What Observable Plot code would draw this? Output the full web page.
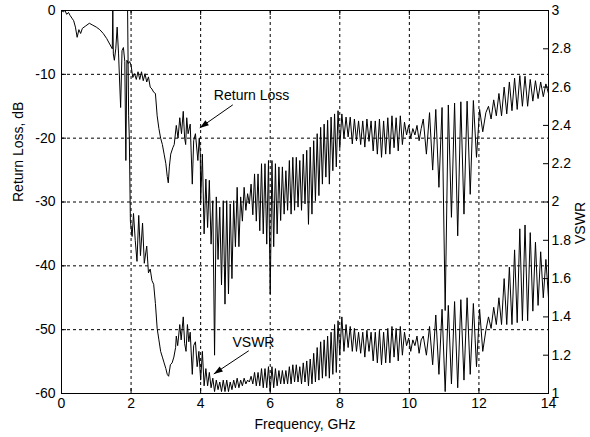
<!DOCTYPE html>
<html>
<head>
<meta charset="utf-8">
<script src="https://cdn.jsdelivr.net/npm/d3@7"></script>
<script src="https://cdn.jsdelivr.net/npm/@observablehq/plot@0.6"></script>
<style>
  html, body { margin: 0; padding: 0; background: #fff; }
  #chart svg { display: block; }
</style>
</head>
<body>
<div id="chart"></div>
<script>
// ---------- tick values ----------
const xTicks = [0, 2, 4, 6, 8, 10, 12, 14];
const rlTicks = [0, -10, -20, -30, -40, -50, -60];
const vswrTicks = [1, 1.2, 1.4, 1.6, 1.8, 2, 2.2, 2.4, 2.6, 2.8, 3];

// ---------- Return Loss (dB), 0–4 GHz : [GHz, dB] ----------
const rlHead = [
  [0,0],[0.05,-0.2],[0.1,0],[0.15,-0.6],[0.2,-0.3],[0.25,-0.8],[0.3,-1.2],[0.35,-1.6],[0.4,-2.6],[0.45,-4.2],
  [0.5,-3.0],[0.55,-3.6],[0.6,-2.8],[0.7,-2.4],[0.8,-2.0],[0.9,-2.3],[1.0,-2.6],[1.1,-3.0],[1.2,-3.6],[1.3,-4.4],
  [1.4,-5.4],[1.46,-6.0],[1.475,0],[1.49,-6.8],[1.52,-7.8],[1.56,-6.0],[1.6,-2.6],[1.64,-6.8],[1.7,-15.2],[1.74,-6.3],
  [1.78,-5.8],[1.82,-8],[1.85,-23.5],[1.88,-7.8],[1.92,-8.3],[1.96,-8.0],[2.0,-8.6],[2.05,-10.5],[2.1,-9.9],[2.15,-10.8],
  [2.2,-9.6],[2.25,-10.8],[2.3,-9.6],[2.35,-11],[2.4,-9.9],[2.45,-11.2],[2.5,-10.4],[2.55,-12],[2.6,-12.3],[2.65,-12.8],
  [2.7,-13],[2.75,-16.5],[2.8,-18.5],[2.85,-20],[2.9,-21],[2.95,-22.5],[3.0,-24],[3.04,-26],[3.07,-27],[3.1,-24.5],
  [3.14,-22.5],[3.2,-21.5],[3.24,-21],[3.3,-18],[3.35,-20],[3.4,-16.8],[3.45,-19.3],[3.5,-15.8],[3.54,-20],[3.57,-21],
  [3.6,-16.8],[3.64,-19.3],[3.7,-17.8],[3.76,-27.2],[3.8,-20.4],[3.85,-19.3],[3.92,-23.5],[3.96,-20],[3.99,-22.5]
];

// ---------- VSWR, 1.9–4 GHz : [GHz, VSWR] ----------
const vswrHead = [
  [1.90,3.0],[1.93,2.45],[1.95,2.33],[1.98,1.9],[2.03,1.82],[2.07,1.94],[2.12,1.80],[2.17,1.69],[2.22,1.93],[2.27,1.72],
  [2.33,1.89],[2.38,1.68],[2.45,1.77],[2.5,1.63],[2.55,1.65],[2.6,1.59],[2.65,1.57],[2.7,1.47],[2.75,1.34],[2.8,1.28],
  [2.85,1.22],[2.9,1.19],[2.95,1.16],[3.0,1.13],[3.04,1.1],[3.08,1.09],[3.13,1.15],[3.18,1.16],[3.23,1.19],[3.28,1.24],
  [3.3,1.3],[3.34,1.25],[3.4,1.36],[3.44,1.28],[3.5,1.4],[3.54,1.26],[3.58,1.22],[3.62,1.36],[3.66,1.27],[3.7,1.32],
  [3.76,1.1],[3.8,1.25],[3.85,1.27],[3.9,1.14],[3.95,1.22]
];

// ---------- ripple sections, 4–14 GHz: regular frequency grids ----------
const segStart = [4.0, 8.0, 10.4, 12.2];
const segStep  = [0.05, 0.06, 0.09, 0.075];

// Return loss samples (dB) on those grids
const rlS1 = [
  -30,-22.5, -35,-26.4, -34,-26.6, -36.6,-29.8, -54,-29.2, -39,-30.8, -43,-29.8, -46,-29.8, -44.4,-30.3, -42,-29.8,
  -37,-27.7, -37,-29.2, -33,-27.7, -31.3,-28.7, -30.3,-27.2, -32,-25.6, -33,-25.6, -34.5,-24, -35,-24, -36.6,-23.5,
  -44.4,-23.5, -37,-24, -35,-24.5, -32.9,-24.5, -31.9,-25.1, -31.3,-23.5, -31.9,-23, -31.3,-23, -30.8,-23.5, -31.3,-22.5,
  -30.3,-21.9, -33.5,-21.4, -31.9,-20.4, -29.8,-19.3, -29,-18.3, -27.2,-17.8, -26.1,-17.2, -27.2,-16.7, -25.1,-16.2, -24.5,-15.7
];
const rlS2 = [
  -21.5,-16.2, -20,-16.7, -19.8,-16.7, -20.9,-17, -20.4,-17.3, -21,-17.3, -21.4,-17, -20.5,-17.3, -22,-17.3, -22.5,-17,
  -23,-17.3, -22.5,-16.8, -22.5,-16.5, -21.5,-16.8, -22,-16.5, -21,-17.5, -19.5,-18, -20,-18.5, -19.5,-18, -20.4,-18.5
];
const rlS3 = [
  -17,-22.5, -16,-25, -15.5,-27.7, -15.2,-47, -14.8,-32.4, -14.5,-35.3, -14.3,-31.9, -14.2,-28.8, -14.1,-23, -15.5,-19
];
const rlS4 = [
  -16,-15, -17,-14, -16.5,-13, -16.5,-12, -16.2,-11.2, -15.7,-10.6, -15.5,-10.2, -15,-10.3, -15,-10.8, -14.2,-11,
  -13.8,-11.2, -13.5,-11.5, -13
];

// VSWR samples on the same grids
const vswrS1 = [
  1.07,1.22, 1.04,1.13, 1.04,1.11, 1.03,1.08, 1.01,1.07, 1.02,1.06, 1.01,1.07, 1.01,1.07, 1.01,1.06, 1.02,1.07,
  1.03,1.08, 1.03,1.07, 1.04,1.08, 1.05,1.07, 1.06,1.09, 1.05,1.11, 1.04,1.11, 1.04,1.13, 1.03,1.13, 1.03,1.14,
  1.01,1.14, 1.03,1.13, 1.04,1.12, 1.05,1.12, 1.05,1.12, 1.05,1.14, 1.05,1.15, 1.06,1.15, 1.06,1.14, 1.05,1.16,
  1.06,1.17, 1.04,1.18, 1.05,1.21, 1.06,1.24, 1.07,1.27, 1.08,1.28, 1.09,1.30, 1.08,1.32, 1.10,1.36, 1.11,1.38
];
const vswrS2 = [
  1.20,1.40, 1.22,1.36, 1.24,1.35, 1.22,1.34, 1.22,1.32, 1.21,1.32, 1.19,1.33, 1.22,1.32, 1.17,1.32, 1.16,1.33,
  1.15,1.32, 1.16,1.34, 1.16,1.35, 1.19,1.34, 1.17,1.35, 1.20,1.32, 1.25,1.29, 1.22,1.28, 1.25,1.30, 1.21,1.28
];
const vswrS3 = [
  1.30,1.20, 1.35,1.15, 1.41,1.10, 1.44,1.01, 1.46,1.05, 1.48,1.03, 1.49,1.07, 1.50,1.10, 1.47,1.14, 1.44,1.22
];
const vswrS4 = [
  1.33,1.40, 1.34,1.45, 1.36,1.50, 1.36,1.60, 1.36,1.66, 1.36,1.75, 1.37,1.86, 1.38,1.88, 1.38,1.84, 1.43,1.79,
  1.46,1.74, 1.50,1.70, 1.50
];

// ---------- annotations (data coordinates: GHz, dB) ----------
const noteText = ["Return Loss", "VSWR"];
const noteF = [4.38, 4.915];
const noteDb = [-13.3, -52.0];
const arrowFrom = [[4.924, -14.78], [5.384, -53.3]];
const arrowTo = [[3.975, -18.39], [4.378, -56.94]];

// ---------- build tables ----------
const rlSegs = [rlS1, rlS2, rlS3, rlS4];
const vswrSegs = [vswrS1, vswrS2, vswrS3, vswrS4];
function expand(segs) {
  const out = [];
  segs.forEach((vals, s) => vals.forEach((v, i) => out.push([+(segStart[s] + i * segStep[s]).toFixed(4), v])));
  return out;
}
const rlData = rlHead.concat(expand(rlSegs)).map(([f, v]) => ({f, db: v}));
// VSWR is placed on the shared frame: 1 → -60, 3 → 0
const vToDb = v => (v - 3) * 30;
const vswrData = vswrHead.concat(expand(vswrSegs)).map(([f, v]) => ({f, db: vToDb(v)}));
const notes = noteText.map((t, i) => ({t, f: noteF[i], db: noteDb[i]}));
const arrows = arrowFrom.map((a, i) => ({f1: a[0], d1: a[1], f2: arrowTo[i][0], d2: arrowTo[i][1]}));

const W = 590, H = 437, mL = 61, mR = 42, mT = 10, mB = 44;
const pw = W - mL - mR, ph = H - mT - mB;
const dash = "3,3";

const chart = Plot.plot({
  width: W, height: H,
  marginLeft: mL, marginRight: mR, marginTop: mT, marginBottom: mB,
  style: {fontFamily: "'Liberation Sans', Arial, Helvetica, sans-serif", fontSize: "14px", background: "#fff", color: "#000"},
  x: {domain: [0, 14], label: null},
  y: {domain: [-60, 0], label: null},
  marks: [
    Plot.gridX(xTicks.slice(1, -1), {stroke: "#000", strokeOpacity: 1, strokeWidth: 1, strokeDasharray: dash}),
    Plot.gridY(rlTicks.slice(1, -1), {stroke: "#000", strokeOpacity: 1, strokeWidth: 1, strokeDasharray: dash}),
    Plot.line(rlData, {x: "f", y: "db", stroke: "#000", strokeWidth: 1}),
    Plot.line(vswrData, {x: "f", y: "db", stroke: "#000", strokeWidth: 1}),
    // inward tick marks
    Plot.tickY(rlTicks, {y: d => d, stroke: "#000", insetRight: pw - 5}),
    Plot.tickY(vswrTicks.map(vToDb), {y: d => d, stroke: "#000", insetLeft: pw - 5}),
    Plot.tickX(xTicks, {x: d => d, stroke: "#000", insetTop: ph - 5}),
    Plot.tickX(xTicks, {x: d => d, stroke: "#000", insetBottom: ph - 5}),
    Plot.frame({stroke: "#000", strokeWidth: 1}),
    Plot.axisX(xTicks, {anchor: "bottom", tickSize: 0, tickPadding: 5, tickFormat: d => String(d), label: null}),
    Plot.axisY(rlTicks, {anchor: "left", tickSize: 0, tickPadding: 6, tickFormat: d => String(d), label: null}),
    Plot.axisY(vswrTicks.map(vToDb), {anchor: "right", tickSize: 0, tickPadding: 3,
      tickFormat: d => String(+(3 + d / 30).toFixed(1)), label: null}),
    // axis titles
    Plot.text(["Frequency, GHz"], {frameAnchor: "bottom", dy: 31, text: d => d, lineAnchor: "middle", fill: "#000"}),
    Plot.text(["Return Loss, dB"], {frameAnchor: "left", dx: -43, rotate: -90, text: d => d, lineAnchor: "middle", fill: "#000"}),
    Plot.text(["VSWR"], {frameAnchor: "right", dx: 32, rotate: -90, text: d => d, lineAnchor: "middle", fill: "#000"}),
    // annotations
    Plot.text(notes, {x: "f", y: "db", text: "t", textAnchor: "start", lineAnchor: "middle", fill: "#000"}),
    Plot.link(arrows, {x1: "f1", y1: "d1", x2: "f2", y2: "d2", stroke: "#000", strokeWidth: 1, markerEnd: "arrow"})
  ]
});

// filled arrowheads
d3.select(chart).selectAll("marker")
  .attr("viewBox", "-10 -5 10 10")
  .attr("markerUnits", "userSpaceOnUse")
  .attr("markerWidth", 10)
  .attr("markerHeight", 10)
  .attr("fill", "#000")
  .attr("stroke", "none")
  .selectAll("path")
  .attr("d", "M-9,-3L0,0L-9,3Z");

document.getElementById("chart").appendChild(chart);
</script>
</body>
</html>
